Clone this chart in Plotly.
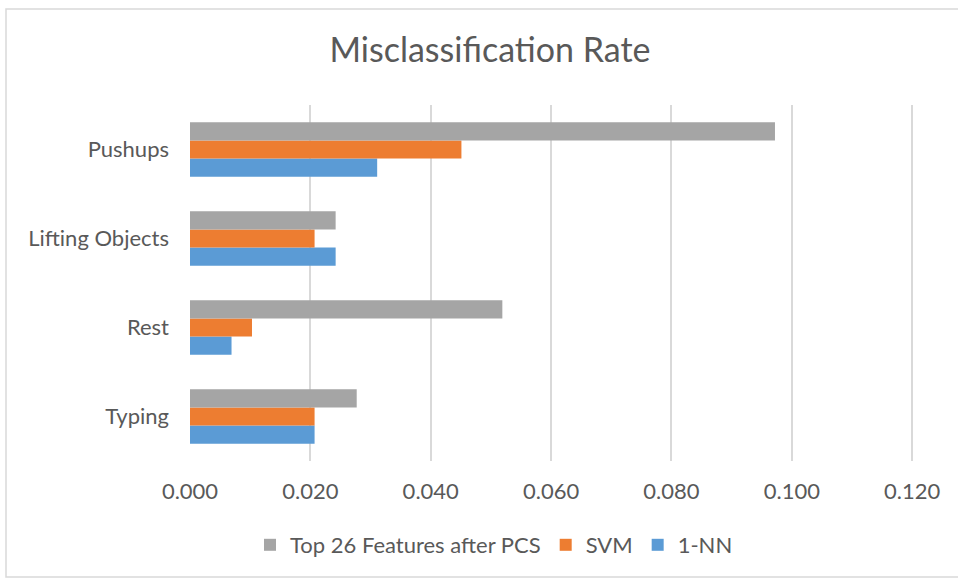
import plotly.graph_objects as go

categories = ["Typing", "Rest", "Lifting Objects", "Pushups"]
series_names = ["1-NN", "SVM", "Top 26 Features after PCS"]
nn_values = [0.0207, 0.0069, 0.0242, 0.0311]
svm_values = [0.0207, 0.0103, 0.0207, 0.0451]
top26_values = [0.0277, 0.0519, 0.0242, 0.0972]
colors = ["#5B9BD5", "#ED7D31", "#A5A5A5"]
tick_vals = [0.0, 0.02, 0.04, 0.06, 0.08, 0.10, 0.12]

FONT = "Lato"
TXT = "#595959"

fig = go.Figure()
for name, vals, col in zip(series_names, [nn_values, svm_values, top26_values], colors):
    fig.add_trace(go.Bar(y=categories, x=vals, name=name, orientation="h",
                         marker=dict(color=col, line=dict(width=0))))

fig.update_layout(
    width=958, height=580,
    margin=dict(l=190, r=44, t=105, b=119, autoexpand=False),
    paper_bgcolor="white", plot_bgcolor="white",
    barmode="group", bargap=0.39, bargroupgap=0,
    font=dict(family=FONT, color=TXT, size=22),
    title=dict(text="Misclassification Rate", x=490/958, xanchor="center",
               y=1 - 50/580, yanchor="middle", xref="container", yref="container",
               font=dict(family=FONT, size=34, color=TXT)),
    legend=dict(orientation="h", traceorder="reversed", x=494/958, xanchor="center",
                xref="container", yref="container", y=1 - 545/580, yanchor="middle",
                font=dict(family=FONT, size=22, color=TXT), itemwidth=30),
    showlegend=True,
)
fig.update_xaxes(range=[0, 0.1203], tickvals=tick_vals, tickformat=".3f",
                 showgrid=True, gridcolor="#D9D9D9", gridwidth=2,
                 zeroline=False, showline=False, ticks="", ticklabelstandoff=15,
                 automargin=False,
                 tickfont=dict(family=FONT, size=22, color=TXT))
fig.update_yaxes(showgrid=False, zeroline=False, showline=False, ticks="",
                 ticklabelstandoff=20, automargin=False,
                 tickfont=dict(family=FONT, size=22, color=TXT))
fig.add_shape(type="rect", xref="paper", yref="paper",
              x0=(6 - 190) / 724, x1=1.2, y0=(461 - 577) / 356, y1=(461 - 9) / 356,
              line=dict(color="#D9D9D9", width=1.5), fillcolor="rgba(0,0,0,0)", layer="below")

fig.write_html("out.html", config={"displayModeBar": False},
               post_script="document.body.style.margin='0';")
